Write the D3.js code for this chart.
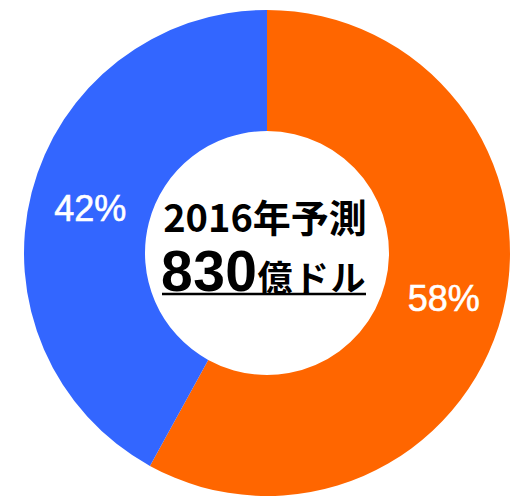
<!DOCTYPE html>
<html>
<head>
<meta charset="utf-8">
<script src="https://cdn.jsdelivr.net/npm/d3@7"></script>
<style>
  body { margin: 0; background: #fff; }
  svg { display: block; }
</style>
</head>
<body>
<div id="chart"></div>
<script>
var WIDTH = 512;
var HEIGHT = 498;

// slices, clockwise from 12 o'clock
var segments = ["orange", "blue"];
var shares = [58, 42];
var colors = ["#ff6600", "#3366ff"];

var titleLine = "2016年予測";
var totalValue = "830";
var totalUnit = "億ドル";

var cx = 267, cy = 253;
var outerR = 243, innerR = 122;

var svg = d3.select("#chart").append("svg")
    .attr("width", WIDTH)
    .attr("height", HEIGHT);

var g = svg.append("g")
    .attr("transform", "translate(" + cx + "," + cy + ")");

var pie = d3.pie().sort(null).value(function(d){ return d; });
var arc = d3.arc().innerRadius(innerR).outerRadius(outerR);

var arcs = pie(shares);

g.selectAll("path.slice")
    .data(arcs)
  .enter().append("path")
    .attr("class", "slice")
    .attr("d", arc)
    .attr("fill", function(d, i){ return colors[i]; });

g.selectAll("text.pct")
    .data(arcs)
  .enter().append("text")
    .attr("class", "pct")
    .attr("transform", function(d){ return "translate(" + arc.centroid(d) + ")"; })
    .attr("text-anchor", "middle")
    .attr("dy", "0.36em")
    .style("font-family", "'Liberation Sans', Arial, sans-serif")
    .style("font-size", "36px")
    .style("stroke", "#fff")
    .style("stroke-width", 0.6)
    .style("fill", "#fff")
    .text(function(d){ return d.data + "%"; });

// centre text
var ct = g.append("text")
    .attr("text-anchor", "middle")
    .style("font-family", "'Noto Sans CJK JP', sans-serif")
    .style("font-weight", "bold")
    .style("fill", "#000");

ct.append("tspan")
    .attr("x", -2)
    .attr("y", -21)
    .style("font-size", "38px")
    .text(titleLine);

var line2 = g.append("text")
    .attr("text-anchor", "middle")
    .attr("x", -3)
    .attr("y", 38)
    .style("font-family", "'Noto Sans CJK JP', sans-serif")
    .style("font-weight", "bold")
    .style("fill", "#000");

line2.append("tspan")
    .style("font-family", "'Liberation Sans', Arial, sans-serif")
    .style("font-size", "57px")
    .style("letter-spacing", "0.5px")
    .text(totalValue);
line2.append("tspan")
    .style("font-size", "35px")
    .style("letter-spacing", "1.5px")
    .text(totalUnit);

g.append("line")
    .attr("x1", 162 - cx).attr("x2", 366 - cx)
    .attr("y1", 294 - cy).attr("y2", 294 - cy)
    .attr("stroke", "#000")
    .attr("stroke-width", 2.5);
</script>
</body>
</html>
